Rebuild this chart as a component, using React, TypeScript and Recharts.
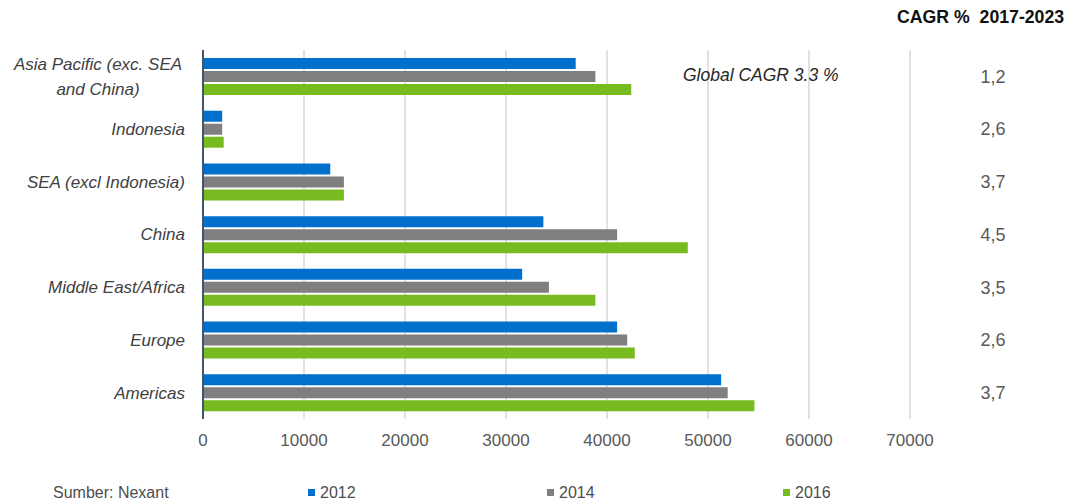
import { BarChart, Bar, XAxis, YAxis, CartesianGrid, Legend } from 'recharts';

// kategori (atas ke bawah)
const regions = [
  'Asia Pacific (exc. SEA\nand China)',
  'Indonesia',
  'SEA (excl Indonesia)',
  'China',
  'Middle East/Africa',
  'Europe',
  'Americas',
];

const v2012 = [36900, 1900, 12600, 33700, 31600, 41000, 51300];
const v2014 = [38850, 1900, 13950, 41000, 34250, 42000, 51950];
const v2016 = [42400, 2050, 13950, 48000, 38850, 42750, 54600];

const cagr = ['1,2', '2,6', '3,7', '4,5', '3,5', '2,6', '3,7'];

const xTicks = [0, 10000, 20000, 30000, 40000, 50000, 60000, 70000];

const FONT = '"Liberation Sans", Arial, sans-serif';

const data = regions.map((name, i) => ({
  name,
  y2012: v2012[i],
  y2014: v2014[i],
  y2016: v2016[i],
}));

const RegionTick = (props: any) => {
  const { x, y, payload } = props;
  const lines: string[] = String(payload.value).split('\n');
  const multi = lines.length > 1;
  const lineH = 25;
  const startY = y - ((lines.length - 1) * lineH) / 2;
  return (
    <text
      x={multi ? x - 87 : x}
      y={startY}
      textAnchor={multi ? 'middle' : 'end'}
      fill="#404040"
      fontSize={17}
      fontStyle="italic"
      fontFamily={FONT}
    >
      {lines.map((l, i) => (
        <tspan key={i} x={multi ? x - 87 : x} y={startY + i * lineH} dy="0.35em">
          {l}
        </tspan>
      ))}
    </text>
  );
};

const CagrTick = (props: any) => {
  const { x, y, payload } = props;
  return (
    <text x={x} y={y} dy="0.35em" textAnchor="middle" fill="#595959" fontSize={18} fontFamily={FONT}>
      {cagr[payload.index]}
    </text>
  );
};

const legendLeft = [308, 547, 783];

const LegendRow = (props: any) => {
  const { payload } = props;
  return (
    <div style={{ position: 'relative', height: 20, fontFamily: FONT, color: '#4d4d4d', fontSize: 16, lineHeight: '20px' }}>
      <span style={{ position: 'absolute', left: 53, top: 0 }}>Sumber: Nexant</span>
      {(payload || []).map((p: any, i: number) => (
        <span key={p.value} style={{ position: 'absolute', left: legendLeft[i], top: 0, whiteSpace: 'nowrap' }}>
          <span style={{ display: 'inline-block', width: 7, height: 7, background: p.color, marginRight: 5, verticalAlign: 'middle', position: 'relative', top: -1 }} />
          {p.value}
        </span>
      ))}
    </div>
  );
};

export default function App() {
  return (
    <div style={{ position: 'absolute', left: 0, top: 0, width: 1071, height: 504, background: '#fff' }}>
      <BarChart
        width={1071}
        height={504}
        data={data}
        layout="vertical"
        margin={{ top: 50, right: 0, left: 0, bottom: 1 }}
        barSize={11}
        barGap={2}
      >
        <CartesianGrid horizontal={false} stroke="#d9d9d9" strokeWidth={1.5} />
        <XAxis
          type="number"
          domain={[0, 70000]}
          ticks={xTicks}
          axisLine={false}
          tickLine={false}
          tickSize={0}
          tickMargin={15}
          height={64}
          interval={0}
          tick={{ fill: '#595959', fontSize: 17, fontFamily: FONT }}
        />
        <YAxis
          yAxisId="left"
          type="category"
          dataKey="name"
          width={203}
          tickLine={false}
          tickSize={0}
          tickMargin={18}
          axisLine={{ stroke: '#44546a', strokeWidth: 2 }}
          tick={<RegionTick />}
          interval={0}
        />
        <YAxis
          yAxisId="right"
          orientation="right"
          type="category"
          dataKey="name"
          width={161}
          tickLine={false}
          tickSize={0}
          tickMargin={83}
          axisLine={false}
          tick={<CagrTick />}
          interval={0}
        />
        <Legend verticalAlign="bottom" align="left" content={<LegendRow />} wrapperStyle={{ left: 0, width: 1071 }} />
        <Bar yAxisId="left" dataKey="y2012" name="2012" fill="#0070cc" isAnimationActive={false} />
        <Bar yAxisId="left" dataKey="y2014" name="2014" fill="#7f7f7f" isAnimationActive={false} />
        <Bar yAxisId="left" dataKey="y2016" name="2016" fill="#77bb20" isAnimationActive={false} />
      </BarChart>
      <div
        style={{
          position: 'absolute',
          left: 897,
          top: 7,
          fontFamily: FONT,
          fontWeight: 'bold',
          fontSize: 17.7,
          color: '#111',
          whiteSpace: 'pre',
        }}
      >
        {'CAGR %  2017-2023'}
      </div>
      <div
        style={{
          position: 'absolute',
          left: 683,
          top: 65,
          fontFamily: FONT,
          fontStyle: 'italic',
          fontSize: 17.5,
          color: '#262626',
          whiteSpace: 'pre',
        }}
      >
        Global CAGR 3.3 %
      </div>
    </div>
  );
}
